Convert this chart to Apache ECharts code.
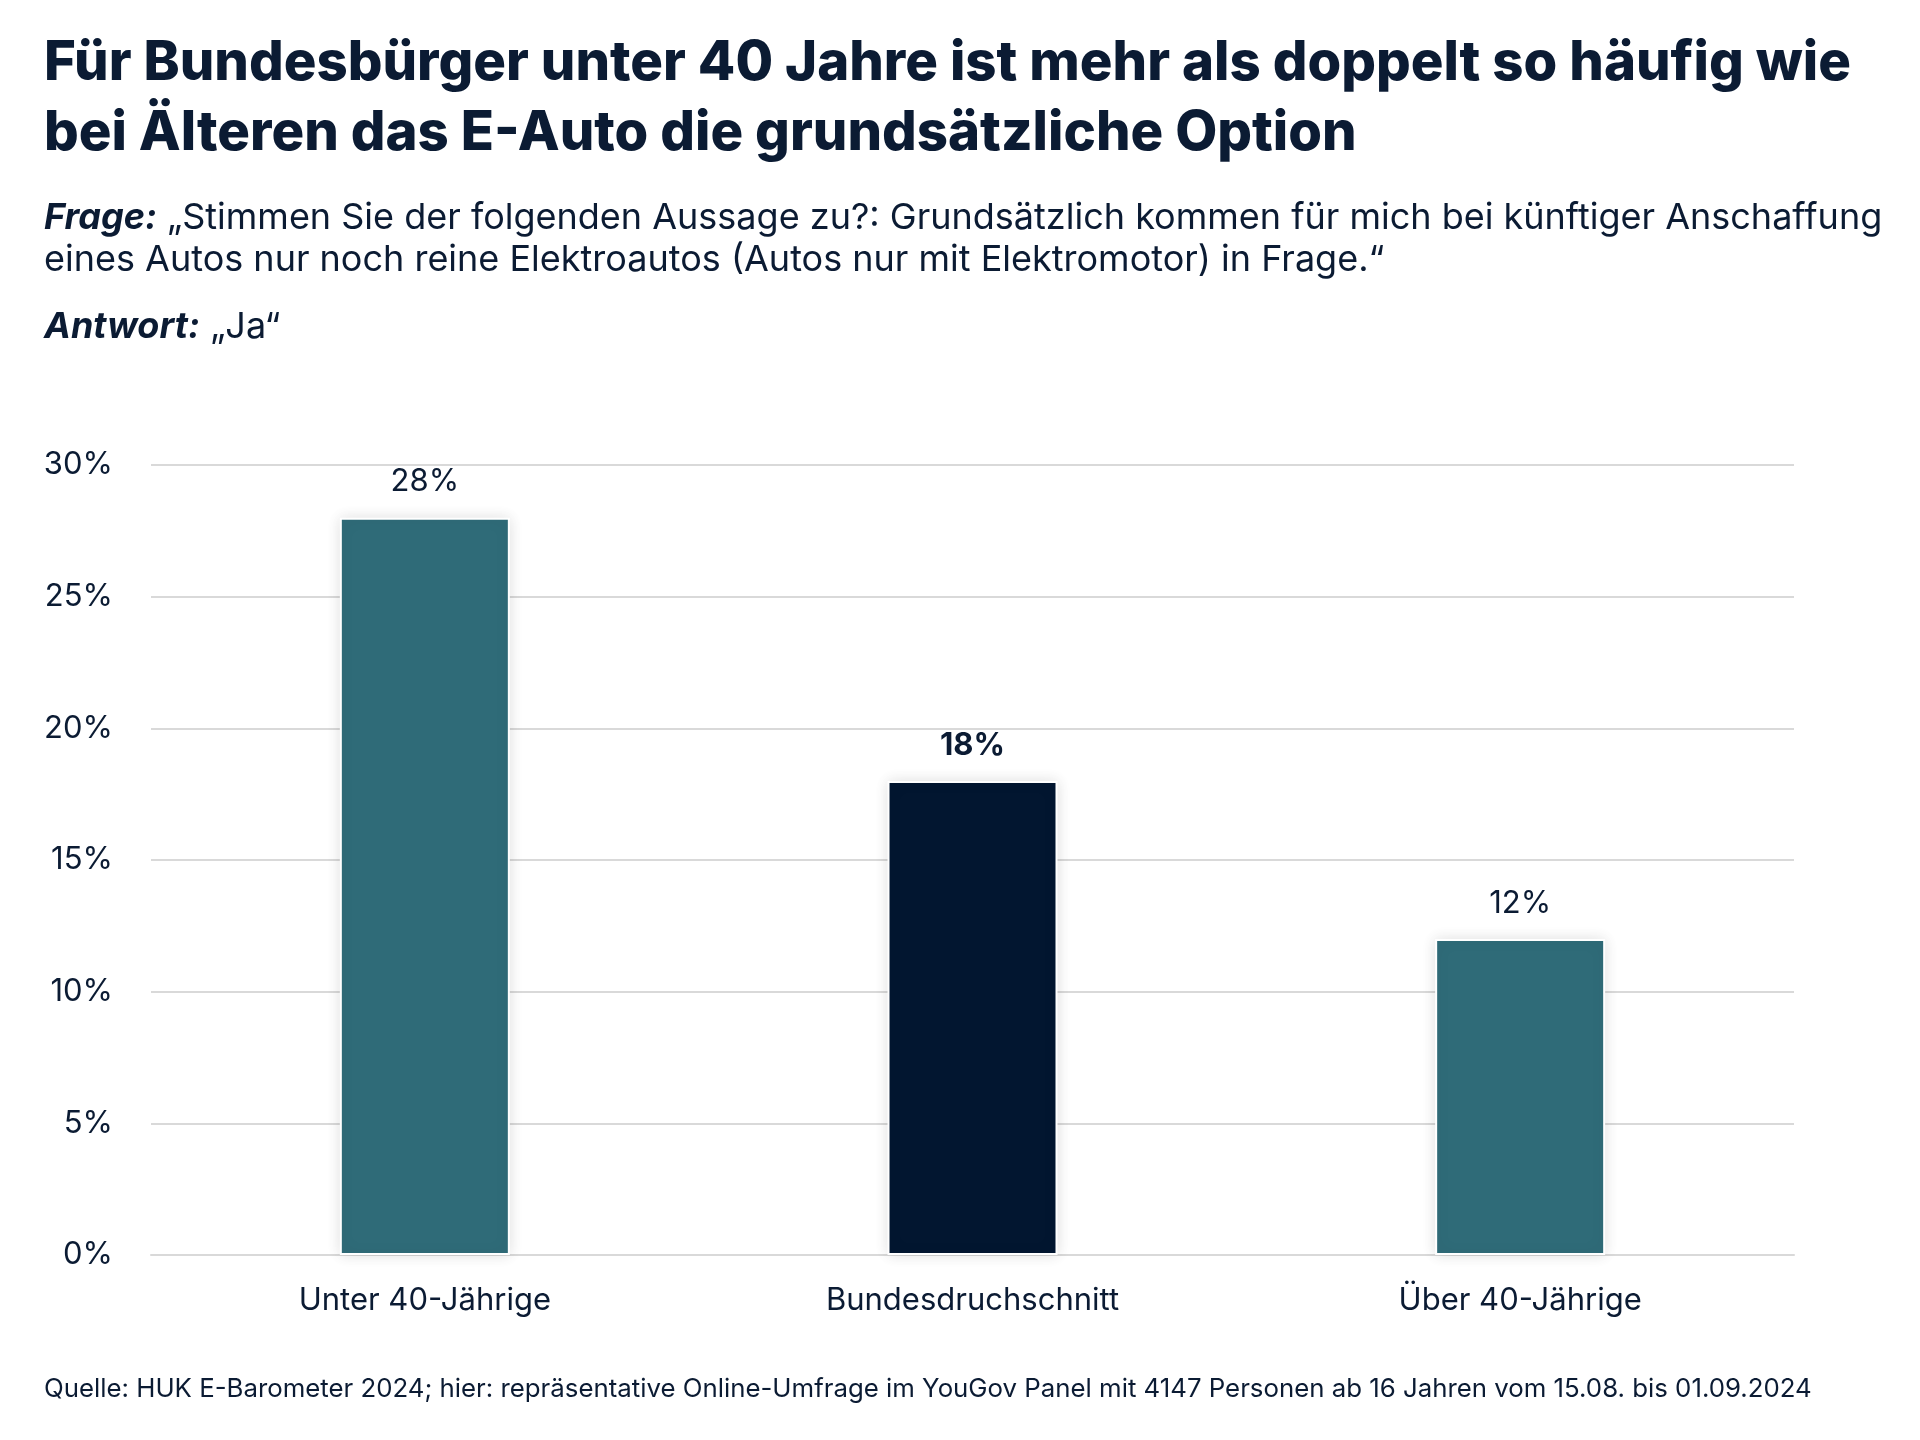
<!DOCTYPE html>
<html><head><meta charset="utf-8">
<script src="https://cdn.jsdelivr.net/npm/echarts@6/dist/echarts.min.js"></script>
<style>html,body{margin:0;padding:0;background:#fff}#c{width:1920px;height:1440px}</style>
</head><body><div id="c"></div>
<script>
const categories = ['Unter 40-Jährige', 'Bundesdruchschnitt', 'Über 40-Jährige'];
const values = [28, 18, 12];
const yTicks = { min: 0, max: 30, interval: 5 };
const titleText = 'Für Bundesbürger unter 40 Jahre ist mehr als doppelt so häufig wie\nbei Älteren das E-Auto die grundsätzliche Option';
const questionText = '{b|Frage:} „Stimmen Sie der folgenden Aussage zu?: Grundsätzlich kommen für mich bei künftiger Anschaffung\neines Autos nur noch reine Elektroautos (Autos nur mit Elektromotor) in Frage.“';
const answerText = '{b|Antwort:} „Ja“';
const sourceText = 'Quelle: HUK E-Barometer 2024; hier: repräsentative Online-Umfrage im YouGov Panel mit 4147 Personen ab 16 Jahren vom 15.08. bis 01.09.2024';

const TEAL = '#2F6B78', NAVY = '#021630', TXT = '#0B1B33';
const FONT = 'Inter';
const chart = echarts.init(document.getElementById('c'));
chart.setOption({
  backgroundColor: '#fff',
  textStyle: { fontFamily: FONT, color: TXT },
  title: [
    { text: titleText, left: 39, top: 24, textStyle: { fontFamily: FONT, fontSize: 54.5, fontWeight: 800, color: TXT, lineHeight: 70 } },
    { text: questionText, left: 39, top: 192, textStyle: { fontFamily: FONT, fontSize: 36, fontWeight: 'normal', color: TXT, lineHeight: 42,
        rich: { b: { fontFamily: FONT, fontSize: 36, fontWeight: 'bold', fontStyle: 'italic', color: TXT } } } },
    { text: answerText, left: 39, top: 301, textStyle: { fontFamily: FONT, fontSize: 36, fontWeight: 'normal', color: TXT, lineHeight: 42,
        rich: { b: { fontFamily: FONT, fontSize: 36, fontWeight: 'bold', fontStyle: 'italic', color: TXT } } } },
    { text: sourceText, left: 39, top: 1371, textStyle: { fontFamily: FONT, fontSize: 25.8, fontWeight: 'normal', color: TXT } }
  ],
  grid: { left: 151, right: 126, top: 465, bottom: 185, containLabel: false },
  xAxis: {
    type: 'category', data: categories,
    axisLine: { lineStyle: { color: '#d9d9d9', width: 2 } },
    axisTick: { show: false },
    axisLabel: { fontFamily: FONT, fontSize: 31, color: TXT, margin: 30 }
  },
  yAxis: {
    type: 'value', min: yTicks.min, max: yTicks.max, interval: yTicks.interval,
    axisLabel: { formatter: '{value}%', fontFamily: FONT, fontSize: 31, color: TXT, margin: 38 },
    splitLine: { lineStyle: { color: '#d9d9d9', width: 2 } },
    axisLine: { show: false }, axisTick: { show: false }
  },
  series: [{
    type: 'bar', barWidth: 170,
    data: values.map((v, i) => ({
      value: v,
      itemStyle: { color: i === 1 ? NAVY : TEAL },
      label: { fontWeight: i === 1 ? 'bold' : 'normal' }
    })),
    itemStyle: { borderColor: '#fff', borderWidth: 2, shadowBlur: 14, shadowColor: 'rgba(0,0,0,0.12)' },
    label: { show: true, position: 'top', distance: 20, formatter: '{c}%', fontFamily: FONT, fontSize: 31, color: TXT }
  }]
});
</script></body></html>
